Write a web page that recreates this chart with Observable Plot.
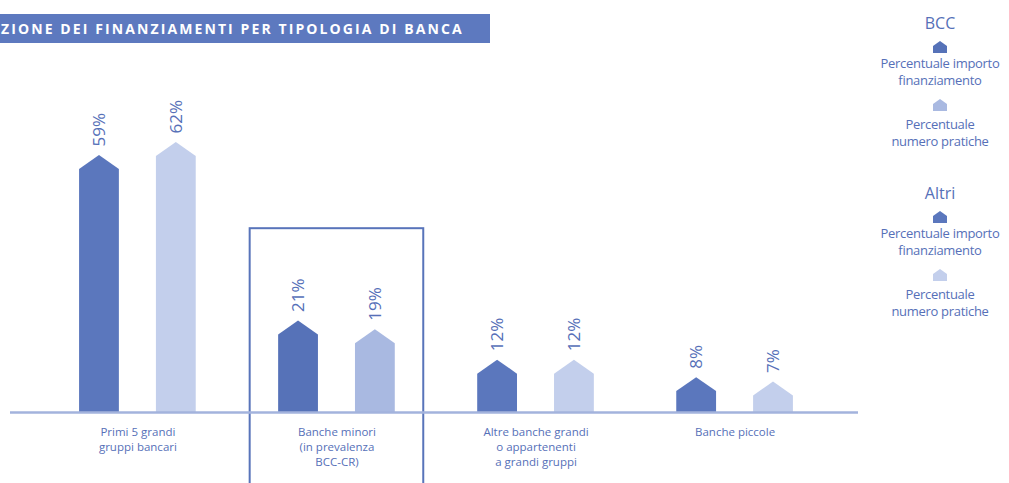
<!DOCTYPE html>
<html>
<head>
<meta charset="utf-8">
<script src="https://cdn.jsdelivr.net/npm/d3@7"></script>
<script src="https://cdn.jsdelivr.net/npm/@observablehq/plot@0.6"></script>
<style>
  html, body { margin: 0; padding: 0; background: #fff; overflow: hidden; }
  #wrap { position: relative; width: 1009px; height: 483px; font-family: "Open Sans", sans-serif; }
  #title { position: absolute; left: 0; top: 14px; width: 490px; height: 29px; background: #5d79bf; overflow: hidden; }
  #title span { position: absolute; left: 1px; top: 5px; white-space: nowrap; color: #fff; font-weight: 700; font-size: 14px; letter-spacing: 2.1px; line-height: 19px; }
  #legend { position: absolute; left: 0; top: 0; width: 1009px; height: 483px; color: #5670b8; pointer-events: none; }
  .lg { position: absolute; left: 870px; width: 140px; text-align: center; white-space: nowrap; }
  .lg-h { font-size: 16px; line-height: 18px; }
  .lg-t { font-size: 13px; line-height: 15px; letter-spacing: -0.3px; }
</style>
</head>
<body>
<div id="wrap">
  <div id="chart"></div>
  <div id="title"><span>ZIONE DEI FINANZIAMENTI PER TIPOLOGIA DI BANCA</span></div>
  <div id="legend"></div>
</div>
<script>
// ---- data ----
const categories = [
  "Primi 5 grandi\ngruppi bancari",
  "Banche minori\n(in prevalenza\nBCC-CR)",
  "Altre banche grandi\no appartenenti\na grandi gruppi",
  "Banche piccole"
];
const gruppo = ["Altri", "BCC", "Altri", "Altri"];
const importo = [59, 21, 12, 8];    // Percentuale importo finanziamento
const pratiche = [62, 19, 12, 7];   // Percentuale numero pratiche
const seriesLabels = [["Percentuale importo", "finanziamento"], ["Percentuale", "numero pratiche"]];
const legendGroups = ["BCC", "Altri"];
const colors = {
  BCC:   ["#5672b8", "#a9b9e1"],
  Altri: ["#5b77bd", "#c3cfec"]
};

// ---- build table ----
const offset = 0.193, half = 0.1, roof = 3.2;
const bars = [];
categories.forEach((c, i) => {
  [importo[i], pratiche[i]].forEach((v, j) => {
    bars.push({id: i * 2 + j, cat: i, series: j, value: v, xc: i + 0.5 + (j === 0 ? -offset : offset),
               color: colors[gruppo[i]][j]});
  });
});
const pts = bars.flatMap(b => [
  {id: b.id, x: b.xc - half, y: Math.max(b.value - roof, 0), color: b.color},
  {id: b.id, x: b.xc, y: b.value, color: b.color},
  {id: b.id, x: b.xc + half, y: Math.max(b.value - roof, 0), color: b.color}
]);

const textColor = "#5670b8";

const plot = Plot.plot({
  width: 1009,
  height: 483,
  marginLeft: 10,
  marginRight: 151,
  marginTop: 20,
  marginBottom: 71,
  style: {background: "transparent", fontFamily: "Open Sans, sans-serif"},
  x: {domain: [-0.14, 4.12], axis: null},
  y: {domain: [0, 90], axis: null},
  marks: [
    Plot.rect([0], {x1: 1.5 - 0.436, x2: 1.5 + 0.436, y1: -17, y2: 42.2, fill: "none", stroke: "#5874ba", strokeWidth: 2}),
    Plot.areaY(pts, {x: "x", y1: 0, y2: "y", z: "id", fill: "color", curve: "linear"}),
    Plot.ruleY([0], {stroke: "#a3b3dd", strokeWidth: 2.5}),
    Plot.text(bars, {x: "xc", y: "value", text: d => d.value + "%", rotate: -90, textAnchor: "start", dy: -9,
                     fill: textColor, fontSize: 17}),
    Plot.text(categories, {x: (d, i) => i + 0.5, y: 0, dy: 13, text: d => d, lineAnchor: "top",
                           fill: textColor, fontSize: 11.5, lineHeight: 1.3, letterSpacing: "0.8px"})
  ]
});
document.getElementById("chart").appendChild(plot);

// ---- legend ----
function icon(color, yc) {
  return `<svg class="lg" style="top:${yc - 6}px;left:932px;width:16px" width="16" height="12" viewBox="0 0 16 12"><path d="M1,12 L1,5 L8,0 L15,5 L15,12 Z" fill="${color}"/></svg>`;
}
const lg = document.getElementById("legend");
let html = "";
legendGroups.forEach((g, k) => {
  const y0 = k === 0 ? 23 : 193;
  html += `<div class="lg lg-h" style="top:${y0 - 9}px">${g}</div>`;
  html += icon(colors[g][0], y0 + 24);
  html += `<div class="lg lg-t" style="top:${y0 + 33}px">${seriesLabels[0][0]}</div>`;
  html += `<div class="lg lg-t" style="top:${y0 + 50}px">${seriesLabels[0][1]}</div>`;
  html += icon(colors[g][1], y0 + 82);
  html += `<div class="lg lg-t" style="top:${y0 + 94}px">${seriesLabels[1][0]}</div>`;
  html += `<div class="lg lg-t" style="top:${y0 + 111}px">${seriesLabels[1][1]}</div>`;
});
lg.innerHTML = html;
</script>
</body>
</html>
